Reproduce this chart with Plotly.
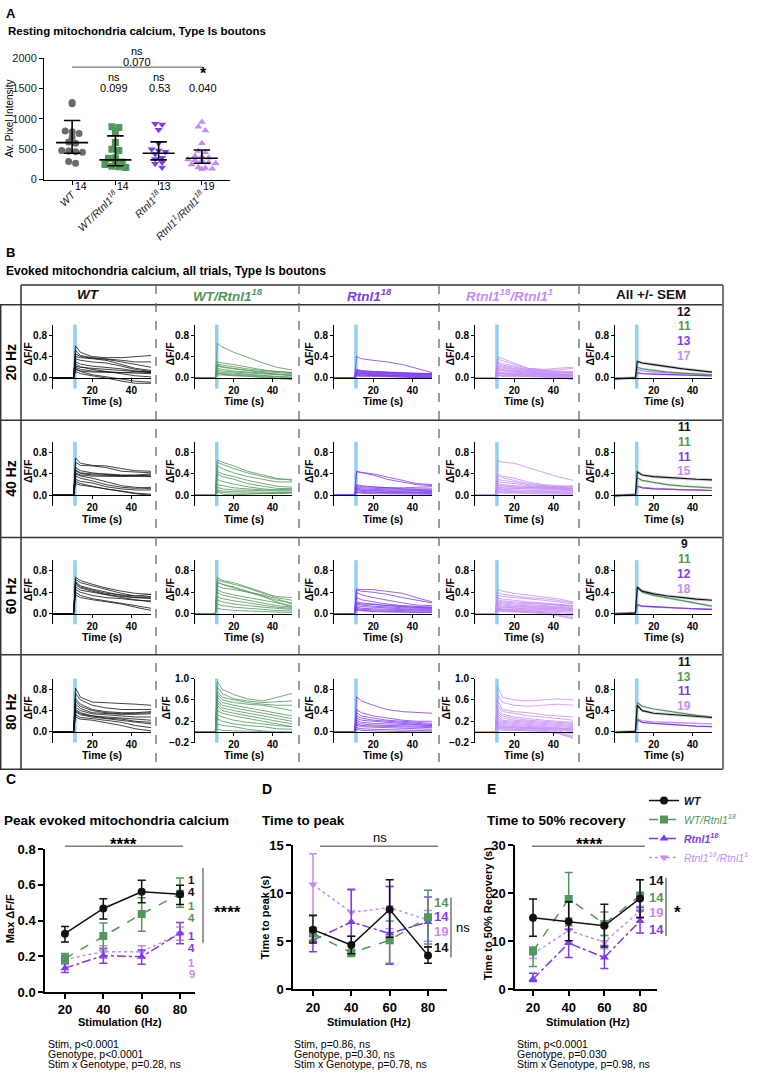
import plotly.graph_objects as go

W, H = 761, 1079
FONT = "Arial, 'Liberation Sans', Helvetica, sans-serif"
BLACK = '#111111'
GREEN = '#52975a'
PURPLE = '#7d3bf2'
LPURPLE = '#c38cf5'
AGRAY = '#6a6a6a'
STIM = '#8fd0f5'
FRAME = '#333333'

# ---------------- Panel A data ----------------
ticktext_A = ['<i>WT</i>', '<i>WT/Rtnl1<sup>18</sup></i>', '<i>Rtnl1<sup>18</sup></i>',
              '<i>Rtnl1<sup>1</sup>/Rtnl1<sup>18</sup></i>']
n_A = ['14', '14', '13', '19']
rest_wt = [1250, 1270, 790, 800, 760, 700, 620, 600, 480, 470, 460, 450, 300, 270]
rest_gr = [870, 860, 790, 610, 500, 480, 360, 350, 300, 290, 250, 220, 210, 200]
rest_pu = [920, 910, 820, 600, 500, 480, 460, 420, 360, 340, 280, 260, 200]
rest_lp = [950, 870, 810, 600, 470, 450, 390, 380, 360, 330, 320, 310, 280, 270, 250, 200, 190, 180, 170]
rest_center = [610, 325, 433, 352]
rest_low = [433, 227, 325, 270]
rest_high = [974, 720, 622, 487]
p_top = ['ns', '0.070']
p_vs_wt = [('ns', '0.099'), ('ns', '0.53'), ('*', '0.040')]

# ---------------- Panel B data ----------------
T_B = [0, 10.5, 11.5, 14, 20, 27, 35, 42, 50]
STIM_ON, STIM_OFF = 10.3, 12.1
freqs = ['20 Hz', '40 Hz', '60 Hz', '80 Hz']
col_titles = ['<b><i>WT</i></b>', '<b><i>WT/Rtnl1<sup>18</sup></i></b>', '<b><i>Rtnl1<sup>18</sup></i></b>',
              '<b><i>Rtnl1<sup>18</sup>/Rtnl1<sup>1</sup></i></b>', '<b>All +/- SEM</b>']

wt_20 = [[0,0,0.60,0.48,0.40,0.38,0.38,0.40,0.42],[0,0,0.52,0.42,0.38,0.36,0.33,0.30,0.30],
         [0,0,0.45,0.40,0.37,0.35,0.30,0.25,0.20],[0,0,0.40,0.38,0.36,0.33,0.25,0.18,0.14],
         [0,0,0.36,0.33,0.30,0.28,0.22,0.16,0.12],[0,0,0.30,0.26,0.22,0.20,0.17,0.13,0.10],
         [0,0,0.22,0.20,0.18,0.16,0.13,0.12,0.10],[0,0,0.20,0.16,0.13,0.11,0.10,0.09,0.08],
         [0,0,0.16,0.13,0.11,0.10,0.10,0.11,0.12],[0,0,0.18,0.12,0.06,0.02,-0.03,-0.06,-0.08],
         [0,0,0.12,0.08,0.04,0.00,-0.06,-0.10,-0.10],[0,0,0.26,0.21,0.16,0.12,0.08,0.04,0.02]]
gr_20 = [[0,0,0.65,0.58,0.48,0.38,0.28,0.20,0.15],[0,0,0.30,0.28,0.25,0.20,0.15,0.12,0.10],
         [0,0,0.26,0.24,0.21,0.17,0.14,0.12,0.10],[0,0,0.22,0.20,0.17,0.14,0.12,0.10,0.08],
         [0,0,0.18,0.16,0.13,0.11,0.09,0.07,0.05],[0,0,0.15,0.13,0.11,0.09,0.07,0.06,0.05],
         [0,0,0.12,0.10,0.09,0.07,0.05,0.03,0.02],[0,0,0.10,0.08,0.07,0.05,0.04,0.02,0.00],
         [0,0,0.08,0.07,0.05,0.04,0.02,0.00,-0.02],[0,0,0.06,0.05,0.04,0.03,0.01,0.00,-0.03],
         [0,0,0.24,0.21,0.18,0.14,0.10,0.07,0.05]]
pu_20 = [[0,0,0.40,0.36,0.33,0.30,0.25,0.18,0.10],[0,0,0.16,0.14,0.12,0.11,0.10,0.09,0.08],
         [0,0,0.14,0.12,0.11,0.10,0.09,0.08,0.07],[0,0,0.12,0.10,0.09,0.08,0.07,0.07,0.06],
         [0,0,0.10,0.09,0.08,0.07,0.06,0.05,0.05],[0,0,0.09,0.08,0.07,0.06,0.05,0.05,0.04],
         [0,0,0.08,0.07,0.06,0.05,0.05,0.04,0.03],[0,0,0.07,0.06,0.05,0.05,0.04,0.03,0.02],
         [0,0,0.06,0.05,0.05,0.04,0.03,0.02,0.01],[0,0,0.05,0.04,0.04,0.03,0.02,0.02,0.00],
         [0,0,0.13,0.11,0.10,0.09,0.08,0.07,0.09],[0,0,0.15,0.13,0.12,0.10,0.09,0.08,0.07],
         [0,0,0.04,0.03,0.03,0.02,0.02,0.01,0.00]]
lp_20 = [[0,0,0.40,0.36,0.28,0.18,0.15,0.12,0.10],[0,0,0.35,0.32,0.25,0.18,0.16,0.18,0.20],
         [0,0,0.30,0.27,0.22,0.16,0.14,0.15,0.18],[0,0,0.28,0.24,0.20,0.15,0.13,0.12,0.12],
         [0,0,0.25,0.22,0.18,0.14,0.12,0.10,0.10],[0,0,0.22,0.20,0.16,0.13,0.11,0.10,0.08],
         [0,0,0.20,0.18,0.15,0.12,0.10,0.08,0.06],[0,0,0.18,0.16,0.13,0.10,0.09,0.07,0.05],
         [0,0,0.16,0.14,0.12,0.10,0.08,0.06,0.05],[0,0,0.15,0.13,0.11,0.09,0.07,0.06,0.04],
         [0,0,0.12,0.10,0.09,0.07,0.06,0.05,0.03],[0,0,0.10,0.09,0.08,0.06,0.05,0.04,0.02],
         [0,0,0.10,0.08,0.07,0.06,0.05,0.05,0.06],[0,0,0.08,0.07,0.06,0.05,0.04,0.03,0.00],
         [0,0,0.06,0.05,0.05,0.04,0.03,0.02,-0.02],[0,0,0.05,0.04,0.04,0.03,0.02,0.01,-0.03],
         [0,0,0.04,0.03,0.03,0.02,0.02,0.01,0.00]]

wt_40 = [[0,0,0.70,0.60,0.56,0.55,0.50,0.46,0.45],[0,0,0.62,0.56,0.55,0.52,0.45,0.43,0.42],
         [0,0,0.52,0.46,0.42,0.39,0.37,0.36,0.36],[0,0,0.46,0.41,0.38,0.37,0.36,0.35,0.35],
         [0,0,0.42,0.38,0.36,0.35,0.35,0.36,0.38],[0,0,0.36,0.32,0.27,0.20,0.15,0.13,0.15],
         [0,0,0.30,0.26,0.23,0.16,0.12,0.10,0.10],[0,0,0.26,0.22,0.17,0.12,0.08,0.04,0.02],
         [0,0,0.22,0.19,0.16,0.12,0.08,0.03,0.00],[0,0,0.40,0.36,0.32,0.25,0.18,0.15,0.12],
         [0,0,0.48,0.42,0.40,0.40,0.38,0.38,0.40]]
gr_40 = [[0,0,0.66,0.62,0.55,0.45,0.38,0.32,0.28],[0,0,0.62,0.58,0.50,0.42,0.35,0.30,0.30],
         [0,0,0.55,0.50,0.42,0.35,0.30,0.25,0.25],[0,0,0.45,0.40,0.35,0.28,0.22,0.17,0.15],
         [0,0,0.40,0.35,0.30,0.22,0.17,0.13,0.12],[0,0,0.30,0.26,0.21,0.16,0.12,0.10,0.10],
         [0,0,0.20,0.18,0.14,0.12,0.10,0.10,0.12],[0,0,0.15,0.12,0.10,0.09,0.08,0.08,0.08],
         [0,0,0.10,0.08,0.07,0.06,0.05,0.05,0.06],[0,0,0.06,0.05,0.04,0.04,0.03,0.03,0.04],
         [0,0,0.08,0.02,0.01,0.02,0.02,0.03,0.05]]
pu_40 = [[0,0,0.45,0.43,0.40,0.35,0.28,0.22,0.20],[0,0,0.44,0.42,0.38,0.30,0.25,0.20,0.18],
         [0,0,0.20,0.18,0.16,0.14,0.12,0.12,0.12],[0,0,0.16,0.14,0.13,0.12,0.11,0.10,0.10],
         [0,0,0.14,0.12,0.11,0.10,0.09,0.09,0.09],[0,0,0.12,0.10,0.09,0.08,0.08,0.08,0.07],
         [0,0,0.10,0.09,0.08,0.07,0.06,0.06,0.06],[0,0,0.08,0.07,0.06,0.05,0.05,0.05,0.05],
         [0,0,0.06,0.05,0.05,0.04,0.04,0.04,0.03],[0,0,0.18,0.16,0.15,0.14,0.14,0.15,0.16],
         [0,0,0.05,0.04,0.03,0.03,0.02,0.02,0.02]]
lp_40 = [[0,0,0.65,0.62,0.60,0.52,0.42,0.35,0.28],[0,0,0.40,0.36,0.32,0.25,0.20,0.18,0.16],
         [0,0,0.36,0.33,0.28,0.22,0.18,0.16,0.18],[0,0,0.30,0.28,0.25,0.20,0.18,0.15,0.14],
         [0,0,0.26,0.24,0.22,0.18,0.16,0.14,0.12],[0,0,0.22,0.20,0.18,0.16,0.14,0.13,0.12],
         [0,0,0.18,0.16,0.15,0.14,0.12,0.11,0.10],[0,0,0.15,0.14,0.13,0.12,0.11,0.10,0.09],
         [0,0,0.12,0.11,0.10,0.09,0.09,0.08,0.08],[0,0,0.10,0.09,0.08,0.08,0.07,0.07,0.06],
         [0,0,0.08,0.07,0.07,0.06,0.06,0.05,0.05],[0,0,0.06,0.05,0.05,0.05,0.04,0.04,0.03],
         [0,0,0.05,0.04,0.04,0.03,0.03,0.02,0.02],[0,0,0.20,0.18,0.16,0.15,0.14,0.12,0.10],
         [0,0,0.14,0.12,0.12,0.14,0.16,0.15,0.13]]

wt_60 = [[0,0,0.68,0.62,0.55,0.48,0.42,0.38,0.36],[0,0,0.64,0.58,0.52,0.45,0.38,0.33,0.32],
         [0,0,0.60,0.52,0.46,0.40,0.34,0.30,0.28],[0,0,0.55,0.48,0.42,0.36,0.32,0.30,0.30],
         [0,0,0.50,0.44,0.40,0.35,0.30,0.26,0.22],[0,0,0.45,0.40,0.34,0.30,0.28,0.25,0.24],
         [0,0,0.40,0.34,0.28,0.24,0.20,0.15,0.10],[0,0,0.35,0.30,0.26,0.22,0.18,0.12,0.06],
         [0,0,0.58,0.50,0.44,0.38,0.35,0.33,0.36]]
gr_60 = [[0,0,0.68,0.62,0.58,0.50,0.40,0.30,0.25],[0,0,0.64,0.60,0.55,0.48,0.38,0.32,0.30],
         [0,0,0.58,0.55,0.50,0.42,0.33,0.25,0.20],[0,0,0.52,0.48,0.45,0.40,0.35,0.28,0.18],
         [0,0,0.45,0.40,0.35,0.30,0.25,0.20,0.15],[0,0,0.40,0.35,0.30,0.25,0.20,0.15,0.12],
         [0,0,0.32,0.28,0.24,0.20,0.16,0.12,0.10],[0,0,0.25,0.22,0.18,0.15,0.12,0.10,0.08],
         [0,0,0.18,0.15,0.12,0.10,0.08,0.06,0.05],[0,0,0.10,0.08,0.06,0.05,0.04,0.03,0.02],
         [0,0,0.60,0.55,0.48,0.40,0.32,0.22,0.12]]
pu_60 = [[0,0,0.46,0.45,0.45,0.42,0.38,0.30,0.22],[0,0,0.44,0.42,0.40,0.36,0.30,0.25,0.20],
         [0,0,0.40,0.35,0.30,0.25,0.20,0.16,0.15],[0,0,0.30,0.26,0.22,0.18,0.15,0.13,0.12],
         [0,0,0.22,0.20,0.18,0.15,0.13,0.12,0.10],[0,0,0.18,0.16,0.14,0.12,0.11,0.10,0.10],
         [0,0,0.15,0.13,0.12,0.10,0.09,0.08,0.08],[0,0,0.12,0.10,0.09,0.08,0.07,0.07,0.06],
         [0,0,0.10,0.08,0.07,0.06,0.05,0.05,0.05],[0,0,0.08,0.06,0.05,0.04,0.04,0.03,0.03],
         [0,0,0.06,0.05,0.04,0.03,0.03,0.02,0.02],[0,0,0.20,0.18,0.17,0.15,0.13,0.12,0.12]]
lp_60 = [[0,0,0.46,0.42,0.38,0.35,0.32,0.28,0.22],[0,0,0.40,0.36,0.33,0.30,0.28,0.25,0.20],
         [0,0,0.35,0.32,0.30,0.28,0.25,0.22,0.18],[0,0,0.30,0.27,0.25,0.22,0.20,0.18,0.15],
         [0,0,0.26,0.24,0.22,0.20,0.18,0.16,0.14],[0,0,0.22,0.20,0.18,0.16,0.15,0.14,0.12],
         [0,0,0.20,0.18,0.16,0.15,0.13,0.12,0.10],[0,0,0.18,0.16,0.14,0.13,0.12,0.11,0.10],
         [0,0,0.16,0.14,0.13,0.12,0.11,0.10,0.08],[0,0,0.14,0.12,0.11,0.10,0.10,0.09,0.08],
         [0,0,0.12,0.11,0.10,0.09,0.08,0.07,0.06],[0,0,0.10,0.09,0.08,0.07,0.07,0.06,0.05],
         [0,0,0.09,0.08,0.07,0.06,0.05,0.04,0.03],[0,0,0.08,0.07,0.06,0.05,0.04,0.02,0.00],
         [0,0,0.07,0.06,0.05,0.04,0.02,0.00,-0.05],[0,0,0.06,0.05,0.04,0.03,0.02,-0.02,-0.08],
         [0,0,0.05,0.04,0.03,0.02,0.00,-0.04,-0.10],[0,0,0.24,0.22,0.20,0.19,0.18,0.16,0.15]]

wt_80 = [[0,0,0.82,0.65,0.56,0.55,0.54,0.52,0.50],[0,0,0.72,0.60,0.50,0.45,0.42,0.42,0.42],
         [0,0,0.62,0.52,0.42,0.38,0.36,0.36,0.38],[0,0,0.58,0.48,0.40,0.36,0.34,0.35,0.36],
         [0,0,0.52,0.44,0.36,0.34,0.33,0.33,0.34],[0,0,0.46,0.40,0.34,0.32,0.30,0.28,0.28],
         [0,0,0.42,0.36,0.30,0.28,0.26,0.24,0.22],[0,0,0.38,0.32,0.28,0.25,0.22,0.18,0.15],
         [0,0,0.32,0.27,0.25,0.22,0.18,0.12,0.08],[0,0,0.28,0.24,0.22,0.18,0.12,0.06,0.02],
         [0,0,0.40,0.34,0.30,0.26,0.24,0.20,0.18]]
gr_80 = [[0,0,0.95,0.80,0.70,0.62,0.58,0.65,0.72],[0,0,0.85,0.72,0.62,0.58,0.55,0.56,0.58],
         [0,0,0.75,0.65,0.60,0.55,0.52,0.50,0.50],[0,0,0.70,0.60,0.55,0.52,0.50,0.45,0.40],
         [0,0,0.65,0.55,0.50,0.45,0.40,0.35,0.30],[0,0,0.60,0.50,0.45,0.40,0.35,0.30,0.25],
         [0,0,0.55,0.45,0.40,0.35,0.30,0.25,0.20],[0,0,0.50,0.40,0.35,0.30,0.25,0.20,0.15],
         [0,0,0.40,0.35,0.30,0.25,0.20,0.15,0.10],[0,0,0.32,0.28,0.22,0.18,0.15,0.12,0.10],
         [0,0,0.25,0.20,0.15,0.12,0.10,0.06,0.05],[0,0,0.15,0.12,0.10,0.05,0.02,0.00,0.00],
         [0,0,0.05,0.03,0.02,0.01,0.00,0.00,0.00]]
pu_80 = [[0,0,0.66,0.58,0.50,0.42,0.38,0.36,0.35],[0,0,0.42,0.36,0.30,0.26,0.22,0.20,0.20],
         [0,0,0.36,0.30,0.26,0.22,0.20,0.18,0.16],[0,0,0.30,0.26,0.22,0.20,0.18,0.16,0.14],
         [0,0,0.26,0.22,0.20,0.18,0.16,0.14,0.12],[0,0,0.22,0.18,0.16,0.15,0.14,0.13,0.12],
         [0,0,0.18,0.15,0.13,0.12,0.11,0.10,0.10],[0,0,0.15,0.12,0.11,0.10,0.09,0.08,0.08],
         [0,0,0.12,0.10,0.09,0.08,0.07,0.06,0.05],[0,0,0.08,0.06,0.05,0.04,0.03,0.02,0.02],
         [0,0,0.05,0.03,0.02,0.01,0.00,0.00,0.00]]
lp_80 = [[0,0,0.85,0.65,0.60,0.58,0.60,0.62,0.60],[0,0,0.70,0.55,0.50,0.48,0.50,0.52,0.50],
         [0,0,0.60,0.42,0.38,0.36,0.32,0.30,0.28],[0,0,0.50,0.38,0.35,0.30,0.28,0.25,0.22],
         [0,0,0.42,0.33,0.28,0.25,0.22,0.20,0.18],[0,0,0.38,0.30,0.25,0.22,0.20,0.18,0.16],
         [0,0,0.34,0.26,0.22,0.20,0.18,0.16,0.14],[0,0,0.30,0.22,0.20,0.18,0.16,0.14,0.12],
         [0,0,0.26,0.20,0.18,0.16,0.14,0.12,0.10],[0,0,0.22,0.18,0.16,0.14,0.12,0.10,0.08],
         [0,0,0.20,0.16,0.14,0.12,0.10,0.08,0.06],[0,0,0.18,0.14,0.12,0.10,0.09,0.07,0.05],
         [0,0,0.16,0.12,0.10,0.09,0.08,0.06,0.04],[0,0,0.14,0.10,0.09,0.08,0.07,0.05,0.02],
         [0,0,0.12,0.09,0.08,0.07,0.06,0.04,0.00],[0,0,0.10,0.08,0.07,0.06,0.05,0.02,-0.04],
         [0,0,0.08,0.06,0.05,0.04,0.03,0.00,-0.08],[0,0,0.06,0.05,0.04,0.03,0.02,-0.02,-0.12],
         [0,0,0.04,0.03,0.03,0.02,0.01,-0.03,-0.10]]

# mean traces (All +/- SEM column), order: WT, WT/Rtnl1^18, Rtnl1^18, Rtnl1^18/Rtnl1^1
mean_20 = [[-0.02,0.0,0.31,0.28,0.25,0.21,0.17,0.14,0.11],[-0.01,0.0,0.20,0.17,0.14,0.11,0.09,0.07,0.06],
           [-0.01,0.0,0.10,0.08,0.07,0.06,0.05,0.04,0.04],[-0.01,0.0,0.16,0.13,0.11,0.09,0.08,0.07,0.06]]
mean_40 = [[-0.01,0.01,0.44,0.38,0.35,0.33,0.31,0.30,0.29],[0,0.01,0.33,0.28,0.24,0.20,0.17,0.15,0.14],
           [0,0.01,0.17,0.14,0.12,0.11,0.10,0.09,0.09],[0,0.01,0.18,0.15,0.13,0.11,0.10,0.10,0.09]]
mean_60 = [[-0.01,0.01,0.50,0.42,0.37,0.33,0.30,0.27,0.25],[0,0.01,0.48,0.40,0.34,0.29,0.24,0.19,0.14],
           [0,0.01,0.17,0.14,0.13,0.11,0.10,0.09,0.08],[0,0.01,0.16,0.14,0.12,0.11,0.10,0.09,0.08]]
mean_80 = [[-0.01,0.01,0.50,0.40,0.35,0.33,0.31,0.29,0.27],[0,0.01,0.55,0.48,0.43,0.39,0.35,0.31,0.28],
           [0,0.01,0.23,0.18,0.16,0.14,0.12,0.11,0.10],[0,0.01,0.25,0.21,0.19,0.18,0.17,0.16,0.15]]
sem_all = [0.03, 0.025, 0.012, 0.015]
n_traces = [['12', '11', '13', '17'], ['11', '11', '11', '15'], ['9', '11', '12', '18'], ['11', '13', '11', '19']]

# ---------------- Panels C, D, E data ----------------
stim_hz = [20, 40, 60, 80]
peak_mean = [[0.327, 0.468, 0.561, 0.547], [0.187, 0.314, 0.437, 0.55],
             [0.134, 0.204, 0.198, 0.33], [0.183, 0.226, 0.226, 0.327]]
peak_lo = [[0.28, 0.409, 0.50, 0.49], [0.161, 0.244, 0.341, 0.475],
           [0.11, 0.161, 0.156, 0.27], [0.155, 0.19, 0.195, 0.29]]
peak_hi = [[0.367, 0.523, 0.626, 0.598], [0.216, 0.387, 0.528, 0.638],
           [0.161, 0.244, 0.235, 0.39], [0.21, 0.26, 0.26, 0.365]]
tpk_mean = [[6.2, 4.6, 8.3, 3.5], [5.8, 3.8, 5.1, 7.5], [5.1, 7.0, 5.8, 7.0], [10.9, 8.0, 8.5, 7.2]]
tpk_lo = [[4.8, 3.7, 5.4, 2.7], [5.1, 3.4, 2.7, 4.7], [3.9, 3.7, 2.6, 4.4], [7.6, 5.5, 6.3, 5.0]]
tpk_hi = [[7.7, 5.5, 11.4, 4.4], [6.4, 4.1, 7.1, 10.3], [6.2, 10.4, 10.7, 9.6], [14.1, 10.3, 10.7, 8.2]]
rec_mean = [[14.9, 14.1, 13.2, 18.9], [7.9, 18.8, 13.6, 19.5], [2.1, 9.6, 6.6, 14.2], [7.4, 12.2, 9.8, 16.3]]
rec_lo = [[11.0, 10.1, 8.8, 14.9], [4.7, 13.2, 11.2, 16.3], [1.6, 6.6, 4.3, 11.7], [6.4, 9.5, 8.4, 15.1]]
rec_hi = [[18.8, 18.2, 17.7, 22.8], [8.8, 24.3, 16.1, 22.8], [3.3, 12.5, 9.1, 17.0], [8.4, 14.9, 11.2, 17.3]]
legend_labels = ['<b><i>WT</i></b>', '<i>WT/Rtnl1<sup>18</sup></i>', '<b><i>Rtnl1<sup>18</sup></i></b>',
                 '<i>Rtnl1<sup>18</sup>/Rtnl1<sup>1</sup></i>']
stats_C = ['Stim, p&lt;0.0001', 'Genotype, p&lt;0.0001', 'Stim x Genotype, p=0.28, ns']
stats_D = ['Stim, p=0.86, ns', 'Genotype, p=0.30, ns', 'Stim x Genotype, p=0.78, ns']
stats_E = ['Stim, p&lt;0.0001', 'Genotype, p=0.030', 'Stim x Genotype, p=0.98, ns']

# =====================================================================
COLORS = [BLACK, GREEN, PURPLE, LPURPLE]
fig = go.Figure()
annotations = []
shapes = []
axes = {}
ax_count = [0]


def make_axes(xdom, ydom, xrange, yrange, xkw=None, ykw=None, xcross=None):
    ax_count[0] += 1
    n = ax_count[0]
    s = '' if n == 1 else str(n)
    base = dict(showgrid=False, zeroline=False, showline=True, linecolor='black', linewidth=1,
                ticks='outside', tickcolor='black', ticklen=3, tickwidth=1, fixedrange=True)
    xa = dict(base, domain=[xdom[0] / W, xdom[1] / W], range=list(xrange), anchor='y' + s)
    ya = dict(base, domain=[1 - ydom[1] / H, 1 - ydom[0] / H], range=list(yrange), anchor='x' + s)
    if xcross is not None:
        bottom = 1 - ydom[1] / H
        height = (ydom[1] - ydom[0]) / H
        xa['anchor'] = 'free'
        xa['position'] = bottom + (xcross - yrange[0]) / (yrange[1] - yrange[0]) * height
    if xkw:
        xa.update(xkw)
    if ykw:
        ya.update(ykw)
    axes['xaxis' + s] = xa
    axes['yaxis' + s] = ya
    return 'x' + s, 'y' + s


def ann(text, x, y, size=11, color='black', xanchor='center', yanchor='middle', angle=0):
    annotations.append(dict(text=text, x=x / W, y=1 - y / H, xref='paper', yref='paper',
                            showarrow=False, xanchor=xanchor, yanchor=yanchor, textangle=angle,
                            font=dict(size=size, color=color, family=FONT)))


def line(x0, y0, x1, y1, color=FRAME, width=1, dash='solid'):
    shapes.append(dict(type='line', xref='paper', yref='paper', x0=x0 / W, x1=x1 / W,
                       y0=1 - y0 / H, y1=1 - y1 / H, line=dict(color=color, width=width, dash=dash)))


# ---------------- Panel A ----------------
ann('<b>A</b>', 4, 7, size=13, xanchor='left')
ann('<b>Resting mitochondria calcium, Type Is boutons</b>', 6, 24, size=11.5, xanchor='left')
xa, ya = make_axes((44, 230), (52, 175), (0.35, 4.65), (0, 2000),
                   xkw=dict(tickvals=[1, 2, 3, 4], ticktext=ticktext_A, tickangle=-45,
                            tickfont=dict(size=10.5, family=FONT, color='#222'), ticklen=4),
                   ykw=dict(tickvals=[0, 500, 1000, 1500, 2000], ticklen=4,
                            tickfont=dict(size=11, family=FONT, color='#222')))


def swarm_offsets(vals, bin_size=90, step=0.16):
    order = sorted(range(len(vals)), key=lambda i: -vals[i])
    bins = {}
    for i in order:
        bins.setdefault(int(vals[i] // bin_size), []).append(i)
    offs = [0.0] * len(vals)
    for idxs in bins.values():
        k = len(idxs)
        for j, i in enumerate(idxs):
            offs[i] = (j - (k - 1) / 2) * step
    return offs


groupsA = [(rest_wt, AGRAY, 'circle'), (rest_gr, GREEN, 'square'),
           (rest_pu, PURPLE, 'triangle-down'), (rest_lp, LPURPLE, 'triangle-up')]
for gi, (vals, col, sym) in enumerate(groupsA):
    pos = gi + 1
    offs = swarm_offsets(vals)
    fig.add_trace(go.Scatter(x=[pos + o for o in offs], y=vals, mode='markers', xaxis=xa, yaxis=ya,
                             marker=dict(color=col, symbol=sym, size=7, line=dict(width=0)),
                             showlegend=False, hoverinfo='skip'))
    c, lo, hi = rest_center[gi], rest_low[gi], rest_high[gi]
    ex = [pos - 0.37, pos + 0.37, None, pos - 0.19, pos + 0.19, None, pos - 0.19, pos + 0.19, None, pos, pos]
    ey = [c, c, None, lo, lo, None, hi, hi, None, lo, hi]
    fig.add_trace(go.Scatter(x=ex, y=ey, mode='lines', xaxis=xa, yaxis=ya,
                             line=dict(color='black', width=1.6), showlegend=False, hoverinfo='skip'))
ann('Av. Pixel Intensity', 9, 113, size=10, angle=-90)
for i, txt in enumerate(n_A):
    ann(txt, [81, 123, 165, 209][i], 182, size=10.5)
ann(p_top[0], 137, 45, size=11)
ann(p_top[1], 137, 56, size=11)
line(72, 61, 203, 61, color='#555', width=1)
for i, (sig, pv) in enumerate(p_vs_wt):
    xc = [114, 159, 203][i]
    if sig == '*':
        ann('<b>*</b>', xc, 78, size=16, yanchor='bottom')
    else:
        ann(sig, xc, 71, size=11)
    ann(pv, xc, 82, size=11)

# ---------------- Panel B ----------------
ann('<b>B</b>', 4, 249, size=13, xanchor='left')
ann('<b>Evoked mitochondria calcium, all trials, Type Is boutons</b>', 4, 268, size=12, xanchor='left')

col_bounds = [21, 156, 299, 439, 579, 723]
row_bounds = [302, 419, 538, 657, 773]
# frame
line(21, 282, 723, 282, width=1.5)
line(0, 302, 723, 302, width=1.5)
for yb in row_bounds[1:-1]:
    line(0, yb, 723, yb, width=1.5)
line(0, 773, 723, 773, width=1.5)
line(0.7, 302, 0.7, 773, width=1.5)
line(21, 282, 21, 773, width=1.5)
line(723, 282, 723, 773, color='#777', width=2)
for xb in col_bounds[1:-1]:
    line(xb, 282, xb, 773, color='#666', width=1.3, dash='dash')

title_colors = [BLACK, GREEN, PURPLE, LPURPLE, BLACK]
for ci in range(5):
    ann(col_titles[ci], (col_bounds[ci] + col_bounds[ci + 1]) / 2, 292, size=13.5, color=title_colors[ci])
for ri in range(4):
    ann('<b>' + freqs[ri] + '</b>', 11, (row_bounds[ri] + row_bounds[ri + 1]) / 2, size=14, angle=-90)

col_x = [(53, 151), (195, 292), (334, 432), (475, 573), (615, 712)]
row_y = [(322, 387), (441, 506), (561, 626), (681, 746)]
grid = [[wt_20, wt_40, wt_60, wt_80], [gr_20, gr_40, gr_60, gr_80],
        [pu_20, pu_40, pu_60, pu_80], [lp_20, lp_40, lp_60, lp_80]]
means = [mean_20, mean_40, mean_60, mean_80]
wide_panels = [(3, 1), (3, 3)]
tickfB = dict(size=10, family=FONT, color='black', weight='bold')


def lighten(hexc, f):
    h = hexc.lstrip('#')
    r, g, b = int(h[0:2], 16), int(h[2:4], 16), int(h[4:6], 16)
    r, g, b = [int(v + (255 - v) * f) for v in (r, g, b)]
    return f'rgba({r},{g},{b},0.75)'


for ri in range(4):
    for ci in range(5):
        yr = (-0.2, 1.0)
        wide = (ri, ci) in wide_panels
        if wide:
            ykw = dict(tickvals=[-0.2, 0.2, 0.6, 1.0], tickformat='.1f', tickfont=tickfB)
        else:
            ykw = dict(tickvals=[0, 0.4, 0.8], tickformat='.1f', tickfont=tickfB)
        xa, ya = make_axes(col_x[ci], row_y[ri], (0, 50), yr,
                           xkw=dict(tickvals=[20, 40], tickfont=tickfB), ykw=ykw, xcross=0)
        shapes.append(dict(type='rect', xref=xa, yref=ya + ' domain', x0=STIM_ON, x1=STIM_OFF,
                           y0=0, y1=1, fillcolor=STIM, line=dict(width=0), layer='below'))
        if ci < 4:
            for tr in grid[ci][ri]:
                fig.add_trace(go.Scatter(x=T_B, y=tr, mode='lines', xaxis=xa, yaxis=ya,
                                         line=dict(color=COLORS[ci], width=0.8),
                                         showlegend=False, hoverinfo='skip'))
        else:
            for gi in [3, 2, 1, 0]:
                m = means[ri][gi]
                s = sem_all[gi]
                up = [v + s for v in m]
                dn = [v - s for v in m]
                fig.add_trace(go.Scatter(x=T_B + T_B[::-1], y=up + dn[::-1], mode='lines', fill='toself',
                                         fillcolor=lighten(COLORS[gi], 0.75), line=dict(width=0),
                                         xaxis=xa, yaxis=ya, showlegend=False, hoverinfo='skip'))
            for gi in [3, 2, 1, 0]:
                fig.add_trace(go.Scatter(x=T_B, y=means[ri][gi], mode='lines', xaxis=xa, yaxis=ya,
                                         line=dict(color=COLORS[gi], width=1.2),
                                         showlegend=False, hoverinfo='skip'))
            for gi in range(4):
                ann('<b>' + n_traces[ri][gi] + '</b>', 684, row_bounds[ri] + 7 + 15 * gi,
                    size=12, color=COLORS[gi])
        lab_off = 29 if wide else 25
        ann('<b>ΔF/F</b>', col_x[ci][0] - lab_off, (row_y[ri][0] + row_y[ri][1]) / 2 - 3, size=10.5, angle=-90)
        ann('<b>Time (s)</b>', (col_x[ci][0] + col_x[ci][1]) / 2, row_y[ri][1] + 13, size=10.5)

# ---------------- Panels C, D, E ----------------
symbols = ['circle', 'square', 'triangle-up', 'triangle-down']
dashes = ['solid', 'dash', 'dashdot', 'dot']
tickfC = dict(size=13, family=FONT, color='black', weight='bold')


def summary_panel(xdom, ydom, xrange, yrange, yticks, yfmt, mean, lo, hi, legend=False):
    xa, ya = make_axes(xdom, ydom, xrange, yrange,
                       xkw=dict(tickvals=stim_hz, tickfont=tickfC, ticklen=5, tickwidth=1.5, linewidth=1.5),
                       ykw=dict(tickvals=yticks, tickformat=yfmt, tickfont=tickfC, ticklen=5,
                                tickwidth=1.5, linewidth=1.5))
    for gi in [3, 2, 1, 0]:
        m = mean[gi]
        name = '<span style="color:%s">%s</span>' % (COLORS[gi], legend_labels[gi])
        fig.add_trace(go.Scatter(
            x=stim_hz, y=m, mode='lines+markers', xaxis=xa, yaxis=ya, name=name,
            line=dict(color=COLORS[gi], width=1.5, dash=dashes[gi]),
            marker=dict(color=COLORS[gi], symbol=symbols[gi], size=8),
            error_y=dict(type='data', symmetric=False, array=[h - v for h, v in zip(hi[gi], m)],
                         arrayminus=[v - l for v, l in zip(m, lo[gi])], color=COLORS[gi],
                         thickness=1.5, width=4),
            showlegend=legend, legendrank=gi + 1, hoverinfo='skip'))


# C
ann('<b>C</b>', 4, 783, size=14, xanchor='left')
ann('<b>Peak evoked mitochondria calcium</b>', 2, 825, size=13.5, xanchor='left')
summary_panel((45, 195), (854, 999), (9.6, 87.8), (0, 0.8), [0, 0.2, 0.4, 0.6, 0.8], '.1f',
              peak_mean, peak_lo, peak_hi)
ann('<b>Max ΔF/F</b>', 10, 925, size=11, angle=-90)
ann('<b>Stimulation (Hz)</b>', 120, 1029, size=11)
line(65, 851, 183, 851, width=1)
ann('<b>****</b>', 123, 849, size=17)
line(203, 873, 203, 949, width=1)
ann('<b>****</b>', 227, 918, size=17)
for gi, (digits, ys) in enumerate([('14', (885, 897)), ('14', (912, 924)), ('14', (942, 954)), ('19', (969, 981))]):
    for d, yy in zip(digits, ys):
        ann('<b>' + d + '</b>', 192, yy, size=11.5, color=COLORS[gi])
for i, t in enumerate(stats_C):
    ann(t, 46, 1052 + 10 * i, size=10.5, xanchor='left')

# D
ann('<b>D</b>', 260, 793, size=14, xanchor='left')
ann('<b>Time to peak</b>', 260, 825, size=13.5, xanchor='left')
summary_panel((293, 447), (850, 996), (9.6, 89.9), (0, 15), [0, 5, 10, 15], 'd',
              tpk_mean, tpk_lo, tpk_hi)
ann('<b>Time to peak (s)</b>', 265, 923, size=11, angle=-90)
ann('<b>Stimulation (Hz)</b>', 369, 1029, size=11)
line(320, 851, 438, 851, width=1)
ann('ns', 380, 842, size=13)
line(451, 903, 451, 964, width=1)
ann('ns', 463, 933, size=13)
for txt, yy, col in [('14', 908, GREEN), ('14', 922, PURPLE), ('19', 938, LPURPLE), ('14', 954, BLACK)]:
    ann('<b>' + txt + '</b>', 441, yy, size=13, color=col)
for i, t in enumerate(stats_D):
    ann(t, 292, 1052 + 10 * i, size=10.5, xanchor='left')

# E
ann('<b>E</b>', 485, 793, size=14, xanchor='left')
ann('<b>Time to 50% recovery</b>', 485, 825, size=13.5, xanchor='left')
summary_panel((515, 657), (850, 996), (9.9, 89.5), (0, 30), [0, 10, 20, 30], 'd',
              rec_mean, rec_lo, rec_hi, legend=True)
ann('<b>Time to 50% Recovery (s)</b>', 488, 920, size=11, angle=-90)
ann('<b>Stimulation (Hz)</b>', 588, 1029, size=11)
line(532, 851, 645, 851, width=1)
ann('<b>****</b>', 589, 849, size=17)
line(666, 883, 666, 942, width=1)
ann('<b>*</b>', 677, 918, size=17)
for txt, yy, col in [('14', 886, BLACK), ('14', 903, GREEN), ('19', 918, LPURPLE), ('14', 935, PURPLE)]:
    ann('<b>' + txt + '</b>', 656, yy, size=13, color=col)
for i, t in enumerate(stats_E):
    ann(t, 515, 1052 + 10 * i, size=10.5, xanchor='left')

fig.update_layout(
    width=W, height=H, margin=dict(l=0, r=0, t=0, b=0),
    paper_bgcolor='white', plot_bgcolor='rgba(0,0,0,0)',
    font=dict(family=FONT, color='black'),
    annotations=annotations, shapes=shapes,
    legend=dict(x=644 / W, y=1 - 790 / H, xanchor='left', yanchor='top',
                font=dict(size=10.5, family=FONT), bgcolor='rgba(0,0,0,0)',
                itemwidth=30, tracegroupgap=0, traceorder='normal'),
    **axes)

fig.write_html('out.html', config={'displayModeBar': False},
               post_script="document.body.style.margin='0px';document.body.style.overflow='hidden';")
